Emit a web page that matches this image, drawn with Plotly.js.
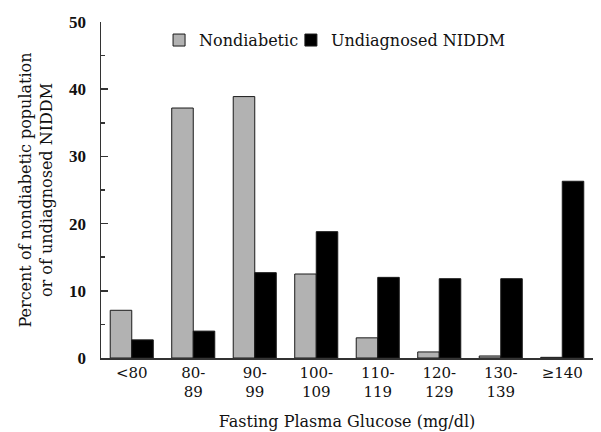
<!DOCTYPE html>
<html>
<head>
<meta charset="utf-8">
<script src="https://cdn.plot.ly/plotly-3.0.1.min.js"></script>
<style>html,body{margin:0;padding:0;background:#fff;}#chart{width:601px;height:432px;}</style>
</head>
<body>
<div id="chart"></div>
<script>
const categories = ["<80", "80-<br>89", "90-<br>99", "100-<br>109", "110-<br>119", "120-<br>129", "130-<br>139", "\u2265140"];
const nondiabetic = [7.1, 37.2, 38.9, 12.5, 3.0, 0.9, 0.3, 0.1];
const undiagnosed = [2.7, 4.0, 12.7, 18.8, 12.0, 11.8, 11.8, 26.3];
const seriesNames = ["Nondiabetic", "Undiagnosed NIDDM"];
const yTicks = [0, 10, 20, 30, 40, 50];

const serif = "DejaVu Serif, Liberation Serif, serif";
const boldSerif = "Liberation Serif, Times New Roman, serif";

const traces = [
  {type: "bar", name: seriesNames[0], x: categories, y: nondiabetic, legend: "legend",
   marker: {color: "#b2b2b2", line: {color: "#1a1a1a", width: 1}}},
  {type: "bar", name: seriesNames[1], x: categories, y: undiagnosed, legend: "legend2",
   marker: {color: "#000000", line: {color: "#1a1a1a", width: 1}}}
];

const legendStyle = {font: {family: serif, size: 16, color: "#111"}, bgcolor: "rgba(0,0,0,0)", itemwidth: 30};

const layout = {
  width: 601, height: 432,
  margin: {l: 101, r: 8, t: 22, b: 74},
  paper_bgcolor: "#fff", plot_bgcolor: "#fff",
  barmode: "group", bargap: 0.3, bargroupgap: 0,
  font: {family: serif, size: 15, color: "#111"},
  showlegend: true,
  legend: Object.assign({orientation: "h", x: 0.118, xanchor: "left", y: 0.946, yanchor: "middle"}, legendStyle),
  legend2: Object.assign({orientation: "h", x: 0.386, xanchor: "left", y: 0.946, yanchor: "middle"}, legendStyle),
  xaxis: {
    type: "category", range: [-0.5, 7.5],
    showline: true, linecolor: "#333", linewidth: 1.5,
    ticks: "", showgrid: false, zeroline: false,
    tickfont: {family: serif, size: 15, color: "#111"},
    title: {text: "Fasting Plasma Glucose (mg/dl)", font: {family: serif, size: 16, color: "#111"}, standoff: 16}
  },
  yaxis: {
    range: [0, 50], tickvals: yTicks, ticktext: yTicks.map(String),
    showline: true, linecolor: "#333", linewidth: 1.5,
    ticks: "inside", ticklen: 7, tickwidth: 1.5, tickcolor: "#333",
    minor: {dtick: 5, ticks: "inside", ticklen: 4, tickwidth: 1.5, tickcolor: "#333", showgrid: false},
    showgrid: false, zeroline: false,
    ticklabelstandoff: 10,
    tickfont: {family: boldSerif, size: 17, color: "#111", weight: "bold"},
    title: {text: "Percent of nondiabetic population<br>or of undiagnosed NIDDM", font: {family: serif, size: 16, color: "#111"}, standoff: 12}
  }
};

Plotly.newPlot("chart", traces, layout, {displayModeBar: false, staticPlot: true});
</script>
</body>
</html>
